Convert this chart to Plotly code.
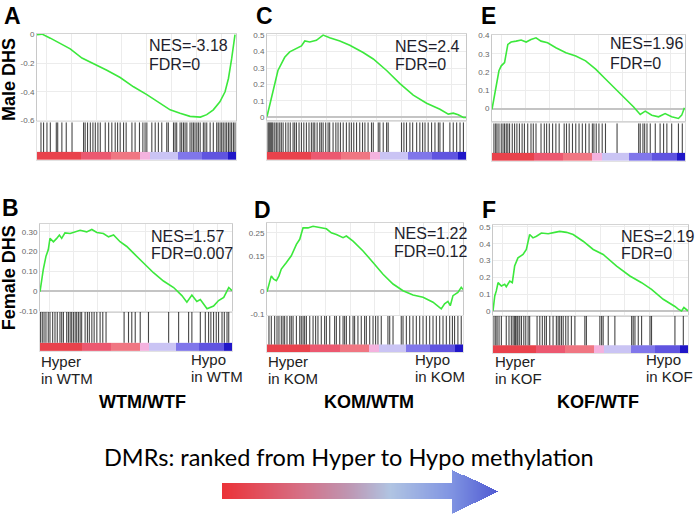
import plotly.graph_objects as go
import numpy as np

W, H = 696, 520

# ---------------- data: running enrichment curves (rank %, ES) ----------------
a_rank = [0, 2.5, 6.7, 11.7, 16.7, 22.6, 28.4, 35.1, 41.8, 48.5, 55.2, 61.9, 66.9, 71.9, 76.9, 82.1, 85.3, 88.6, 91.9, 94.5, 96.2, 97.8, 99.5]
a_es = [0, 0.003, -0.025, -0.065, -0.1, -0.164, -0.203, -0.25, -0.30, -0.365, -0.42, -0.48, -0.526, -0.55, -0.572, -0.577, -0.56, -0.526, -0.47, -0.40, -0.307, -0.17, 0.0]

c_rank = [0, 1.0, 2.2, 3.9, 5.5, 7.2, 8.9, 11.4, 14.8, 17.3, 19.0, 21.5, 24.8, 28.2, 31.5, 36.6, 41.6, 48.3, 53.4, 60.1, 66.8, 73.5, 80.2, 86.9, 91.1, 93.6, 96.1, 98.7, 100]
c_es = [0.006, 0.056, 0.135, 0.215, 0.285, 0.325, 0.365, 0.398, 0.418, 0.434, 0.464, 0.458, 0.468, 0.50, 0.484, 0.464, 0.438, 0.394, 0.355, 0.285, 0.205, 0.135, 0.086, 0.05, 0.02, 0.026, 0.016, 0.0, 0.0]

e_rank = [0, 1.0, 2.2, 3.6, 4.8, 6.5, 8.2, 9.9, 12.5, 15.1, 17.7, 20.2, 22.8, 25.4, 28.8, 33.1, 38.3, 43.4, 48.5, 53.7, 58.8, 64.0, 69.1, 73.4, 76.8, 79.4, 82.8, 86.3, 89.7, 93.1, 96.6, 98.3, 99.7]
e_es = [-0.004, 0.054, 0.144, 0.207, 0.234, 0.252, 0.351, 0.364, 0.369, 0.375, 0.364, 0.378, 0.387, 0.369, 0.36, 0.333, 0.306, 0.288, 0.261, 0.216, 0.162, 0.108, 0.054, 0.009, -0.032, -0.014, -0.036, -0.045, -0.027, -0.045, -0.054, -0.036, 0.004]

b_rank = [0, 0.9, 1.7, 3.1, 4.3, 5.2, 7.0, 8.7, 10.1, 11.3, 13.0, 15.7, 19.1, 20.9, 24.3, 27.0, 29.6, 33.0, 35.7, 38.3, 41.7, 45.2, 48.7, 53.9, 59.1, 64.3, 69.6, 73.9, 76.5, 79.1, 81.7, 83.5, 87.0, 90.4, 93.0, 95.7, 98.3, 100]
b_es = [-0.003, 0.06, 0.109, 0.176, 0.209, 0.267, 0.25, 0.267, 0.284, 0.267, 0.295, 0.292, 0.30, 0.308, 0.30, 0.312, 0.297, 0.292, 0.275, 0.284, 0.25, 0.226, 0.192, 0.143, 0.093, 0.051, 0.018, -0.023, -0.056, -0.02, -0.053, -0.043, -0.09, -0.076, -0.048, -0.032, 0.018, 0.002]

d_rank = [0, 1.0, 2.2, 3.4, 4.8, 6.1, 7.3, 9.9, 12.4, 15.0, 16.7, 18.4, 20.9, 23.5, 26.9, 30.3, 32.8, 35.4, 38.8, 40.5, 43.9, 49.0, 54.1, 59.2, 64.3, 69.4, 74.5, 79.6, 84.7, 88.9, 90.6, 92.3, 93.5, 94.9, 97.4, 99.1, 100]
d_es = [-0.003, 0.03, 0.065, 0.051, 0.044, 0.065, 0.094, 0.122, 0.151, 0.20, 0.222, 0.271, 0.271, 0.278, 0.271, 0.267, 0.25, 0.243, 0.229, 0.236, 0.214, 0.172, 0.122, 0.072, 0.03, 0.001, -0.017, -0.027, -0.048, -0.077, -0.055, -0.045, -0.063, -0.02, -0.006, 0.016, 0.006]

f_rank = [0, 0.9, 1.7, 2.6, 4.3, 6.0, 6.8, 8.6, 9.9, 11.1, 12.8, 15.4, 17.1, 18.8, 20.5, 22.3, 24.8, 28.3, 31.7, 34.2, 37.7, 41.1, 46.2, 51.4, 56.5, 63.4, 70.2, 76.2, 81.3, 87.3, 93.3, 95.0, 96.7, 97.9, 100]
f_es = [0, 0.089, 0.119, 0.168, 0.148, 0.158, 0.144, 0.178, 0.168, 0.267, 0.316, 0.336, 0.366, 0.455, 0.435, 0.445, 0.464, 0.46, 0.468, 0.474, 0.468, 0.455, 0.415, 0.366, 0.336, 0.267, 0.208, 0.168, 0.128, 0.069, 0.026, 0.01, 0.0, 0.02, 0.0]

# ---------------- data: hit positions (rank %) ----------------
a_hits = [2, 3.3, 5, 6.7, 9.7, 10.4, 12.5, 14.7, 17.6, 23.4, 24.2, 25.4, 26.8, 28.1, 29.3, 30.6, 31.8, 34.3, 36, 37.6, 39.3, 40.5, 41.8, 43.5, 44.8, 47.7, 49.3, 51.5, 53.2, 54.3, 55.2, 57.7, 59.4, 61, 62.7, 65.2, 66, 68.6, 69.4, 70.2, 71.9, 72.7, 73.6, 74.4, 75.3, 76.9, 77.8, 78.6, 79.4, 80.3, 81.1, 82, 83.6, 84.4, 85.3, 87, 88.6, 90.3, 91.1, 92, 92.8, 93.6, 94.5, 95.3, 96.2, 97, 97.8, 98.7, 99.5]
c_hits = [0.5, 1.0, 1.5, 2.0, 2.5, 3.0, 3.9, 4.7, 5.5, 6.4, 7.2, 8.1, 9.4, 10.6, 11.7, 13.1, 13.9, 14.8, 16.1, 17.3, 18.5, 19.8, 21.1, 22.3, 23.2, 24.0, 25.2, 26.5, 27.3, 28.2, 29.5, 30.7, 31.5, 33.2, 34.6, 35.7, 36.9, 38.3, 39.9, 41.3, 42.4, 43.6, 45.0, 46.6, 48.0, 49.2, 50.8, 52.5, 53.4, 55.9, 56.7, 58.4, 60.1, 60.9, 67.6, 68.8, 70.1, 71.8, 73.2, 75.2, 76.8, 78.2, 79.4, 81.0, 82.7, 84.4, 86.1, 86.9, 88.6, 91.9, 93.6, 95.3, 97.0, 98.7]
e_hits = [1.0, 1.9, 2.6, 3.6, 4.8, 5.7, 6.5, 7.4, 8.2, 9.1, 10.5, 11.7, 12.9, 14.2, 15.6, 16.8, 18.5, 20.2, 21.4, 22.8, 25.4, 27.1, 28.3, 29.7, 31.4, 33.1, 34.8, 37.4, 38.6, 40.0, 41.7, 43.4, 45.1, 46.8, 48.5, 50.3, 52.0, 52.8, 54.0, 55.4, 57.1, 58.8, 64.8, 76.0, 76.8, 78.2, 79.1, 80.3, 82.0, 84.6, 87.1, 88.9, 90.6, 93.1, 96.6, 98.6]
b_hits = [0.3, 1.2, 2.1, 3.1, 4.3, 5.2, 6.6, 7.8, 9.0, 10.4, 11.3, 12.2, 13.9, 14.8, 15.7, 16.5, 17.4, 18.3, 19.1, 20.0, 20.9, 21.7, 23.5, 24.7, 25.7, 27.0, 28.2, 29.6, 31.3, 32.7, 34.4, 43.8, 46.1, 47.8, 49.6, 52.2, 56.5, 67.0, 72.2, 77.4, 79.1, 83.5, 86.1, 87.8, 89.0, 90.4, 91.8, 93.0, 94.8, 96.0, 97.4, 98.3]
d_hits = [1.0, 2.2, 3.9, 5.1, 6.1, 7.3, 8.2, 9.0, 10.2, 11.6, 12.4, 13.3, 15.0, 16.7, 17.5, 18.4, 19.2, 20.1, 21.8, 23.5, 24.8, 26.0, 27.7, 29.4, 30.3, 32.0, 34.5, 35.4, 37.1, 38.8, 39.6, 40.5, 42.2, 43.9, 44.7, 46.4, 48.1, 49.8, 50.7, 52.4, 54.1, 55.4, 56.6, 58.3, 61.7, 62.6, 64.3, 68.5, 69.4, 71.1, 72.8, 74.5, 76.2, 77.9, 79.6, 81.3, 83.0, 84.7, 86.4, 88.1, 89.8, 91.5, 93.2, 94.6, 95.7, 97.4, 99.1]
f_hits = [0.5, 1.4, 2.1, 3.1, 4.3, 6.8, 8.2, 9.4, 10.3, 11.1, 11.6, 12.3, 12.8, 13.7, 14.6, 15.8, 16.8, 18.0, 18.8, 22.6, 24.0, 25.3, 26.5, 27.4, 29.1, 30.8, 32.5, 33.4, 34.2, 35.1, 36.0, 37.3, 38.5, 40.2, 42.0, 47.1, 47.9, 54.8, 55.7, 56.5, 59.1, 62.5, 71.1, 71.9, 72.8, 74.5, 76.2, 80.5, 81.3, 93.3, 97.6]

# ranked-metric bins for the colour strip (rank % edges, level index)
metric_edges = [0, 22, 37, 52, 57, 71, 83, 96, 100]
metric_levels = [0, 1, 2, 3, 4, 5, 6, 7]

# statistics text
nes = ["-3.18", "1.57", "2.4", "1.22", "1.96", "2.19"]
fdr = ["0", "0.007", "0", "0.12", "0", "0"]
letters = ["A", "B", "C", "D", "E", "F"]
groups = ["WTM", "KOM", "KOF"]
comparisons = ["WTM/WTF", "KOM/WTM", "KOF/WTF"]

curves = [(a_rank, a_es), (b_rank, b_es), (c_rank, c_es), (d_rank, d_es), (e_rank, e_es), (f_rank, f_es)]
hits = [a_hits, b_hits, c_hits, d_hits, e_hits, f_hits]

ytickvals = [[0, -0.2, -0.4, -0.6], [-0.1, 0, 0.1, 0.2, 0.3], [0, 0.1, 0.2, 0.3, 0.4, 0.5],
             [-0.1, 0, 0.15, 0.25], [0, 0.1, 0.2, 0.3, 0.4], [0, 0.1, 0.2, 0.3, 0.4, 0.5]]
yticktext = [["0", "-0.2", "-0.4", "-0.6"], ["-0.10", "0", "0.10", "0.20", "0.30"],
             ["0", "0.1", "0.2", "0.3", "0.4", "0.5"], ["-0.1", "0", "0.15", "0.25"],
             ["0", "0.1", "0.2", "0.3", "0.4"], ["0", "0.1", "0.2", "0.3", "0.4", "0.5"]]

# ---------------- layout geometry (pixels) ----------------
geom = [
    dict(x0=37, x1=236, et=31, eb=120, lt=121, lb=159, yr=[-0.607, 0.007]),
    dict(x0=40, x1=232, et=224, eb=313, lt=313, lb=353, yr=[-0.105, 0.34]),
    dict(x0=267, x1=466, et=31, eb=119, lt=121, lb=159, yr=[-0.018, 0.509]),
    dict(x0=267, x1=463, et=223, eb=316, lt=317, lb=354, yr=[-0.102, 0.292]),
    dict(x0=492, x1=685, et=32, eb=120, lt=122, lb=160, yr=[-0.070, 0.405]),
    dict(x0=493, x1=688, et=225, eb=317, lt=317, lb=355, yr=[-0.029, 0.512]),
]
stat_pos = [(148, 43, 62), (150, 237, 254), (394, 44, 62), (393, 234, 252), (609, 41, 61), (620, 237, 254)]
letter_pos = [(3, 13), (1, 208), (255, 13), (253, 210), (480, 13), (481, 210)]


def px(x):
    return x / W


def py(y):
    return 1 - y / H


strip_colors = ["rgb(233,66,76)", "rgb(236,88,112)", "rgb(240,118,130)", "rgb(244,178,222)",
                "rgb(202,196,244)", "rgb(128,118,234)", "rgb(96,84,224)", "rgb(32,22,200)"]
strip_scale = [[i / 7, c] for i, c in enumerate(strip_colors)]

fig = go.Figure()
layout = dict(width=W, height=H, margin=dict(l=0, r=0, t=0, b=0),
              paper_bgcolor="white", plot_bgcolor="white", showlegend=False)
FONT = "Liberation Sans, Arial, sans-serif"
annotations = []


def note(x, y, text, size, color="black", family=FONT, xanchor="left", angle=0):
    annotations.append(dict(x=px(x), y=py(y), xref="paper", yref="paper", text=text,
                            showarrow=False, xanchor=xanchor, yanchor="middle", textangle=angle,
                            font=dict(size=size, color=color, family=family)))


for i in range(6):
    g = geom[i]
    ea, la = 2 * i + 1, 2 * i + 2
    xs_e, ys_e = f"x{ea}", f"y{ea}"
    xs_l, ys_l = f"x{la}", f"y{la}"
    rk, es = curves[i]
    fig.add_trace(go.Scatter(x=rk, y=es, mode="lines", xaxis=xs_e, yaxis=ys_e,
                             line=dict(color="#3ce83c", width=1.6), hoverinfo="skip"))
    hx, hy = [], []
    for h in hits[i]:
        hx += [h, h, None]
        hy += [0, 1, None]
    fig.add_trace(go.Scatter(x=hx, y=hy, mode="lines", xaxis=xs_l, yaxis=ys_l,
                             line=dict(color="rgba(0,0,0,0.72)", width=1.1), hoverinfo="skip"))
    fig.add_trace(go.Heatmap(z=[metric_levels], x=metric_edges, y=[-0.27, 0], xaxis=xs_l, yaxis=ys_l,
                             colorscale=strip_scale, zmin=0, zmax=7, showscale=False, hoverinfo="skip"))
    xd = [px(g["x0"]), px(g["x1"])]
    layout[f"xaxis{ea}"] = dict(domain=xd, anchor=ys_e, range=[0, 100], showticklabels=False,
                                showgrid=True, gridcolor="#ececec", dtick=12.5, tick0=5,
                                zeroline=False, showline=True, mirror=True, linecolor="#d4d4d4", ticks="")
    layout[f"yaxis{ea}"] = dict(domain=[py(g["eb"]), py(g["et"])], anchor=xs_e, range=g["yr"],
                                tickvals=ytickvals[i], ticktext=yticktext[i], ticks="",
                                tickfont=dict(size=8, color="#666", family=FONT),
                                showgrid=True, gridcolor="#ececec", zeroline=True,
                                zerolinecolor="#c4c4c4", zerolinewidth=1.5,
                                showline=True, mirror=True, linecolor="#c8c8c8")
    layout[f"xaxis{la}"] = dict(domain=xd, anchor=ys_l, range=[0, 100], showticklabels=False,
                                showgrid=False, zeroline=False, showline=True, mirror=True,
                                linecolor="#e2e2e2", ticks="")
    layout[f"yaxis{la}"] = dict(domain=[py(g["lb"]), py(g["lt"])], anchor=xs_l, range=[-0.27, 1],
                                showticklabels=False, showgrid=False, zeroline=False,
                                showline=True, mirror=True, linecolor="#e2e2e2", ticks="")
    sx, sy1, sy2 = stat_pos[i]
    note(sx - 1, sy1, f"NES={nes[i]}", 16, "#1e1e2c")
    note(sx - 1, sy2, f"FDR={fdr[i]}", 16, "#1e1e2c")
    lx, ly = letter_pos[i]
    note(lx - 1, ly, f"<b>{letters[i]}</b>", 23)

# row labels
note(9, 78, "<b>Male DHS</b>", 18, xanchor="center", angle=-90)
note(9, 279, "<b>Female DHS</b>", 18, xanchor="center", angle=-90)

# Hyper / Hypo labels and comparison titles
hyper_x = [40, 267, 494]
hypo_x = [190, 414, 645]
title_x = [142, 369, 598]
for k in range(3):
    note(hyper_x[k] - 1, 363, "Hyper", 15, "#222")
    note(hyper_x[k] - 1, 381, f"in {groups[k]}", 15, "#222")
    note(hypo_x[k] - 1, 361, "Hypo", 15, "#222")
    note(hypo_x[k] - 1, 379, f"in {groups[k]}", 15, "#222")
    note(title_x[k], 404, f"<b>{comparisons[k]}</b>", 18, xanchor="center")

note(349, 460, "DMRs: ranked from Hyper to Hypo methylation", 23.5,
     family="Lato, Open Sans, sans-serif", xanchor="center")

# gradient arrow (decorative)
ax0, ax1, ay0, ay1 = 222, 498, 473, 518
xc = np.arange(ax0, ax1) + 0.5
yc = np.arange(ay0, ay1) + 0.5
XX, YY = np.meshgrid(xc, yc)
head_x = 452
mid_y = 495.5
body = (XX < head_x) & (YY >= 487) & (YY <= 503)
head = (XX >= head_x) & (np.abs(YY - mid_y) <= (ax1 - XX) / (ax1 - head_x) * 22.5)
Z = np.where(body | head, XX, np.nan)
arrow_scale = [[0, "rgb(235,50,56)"], [0.28, "rgb(214,110,132)"], [0.46, "rgb(190,150,178)"],
               [0.61, "rgb(176,196,226)"], [0.83, "rgb(128,148,226)"], [1, "rgb(80,90,210)"]]
fig.add_trace(go.Heatmap(z=Z, x=xc, y=yc, xaxis="x13", yaxis="y13", colorscale=arrow_scale,
                         zmin=ax0, zmax=ax1, showscale=False, hoverinfo="skip"))
layout["xaxis13"] = dict(domain=[px(ax0), px(ax1)], range=[ax0, ax1], anchor="y13", visible=False)
layout["yaxis13"] = dict(domain=[py(ay1), py(ay0)], range=[ay1, ay0], anchor="x13", visible=False)

layout["annotations"] = annotations
fig.update_layout(**layout)
fig.write_html("out.html", config={"displayModeBar": False},
               post_script="document.body.style.margin='0px';")
